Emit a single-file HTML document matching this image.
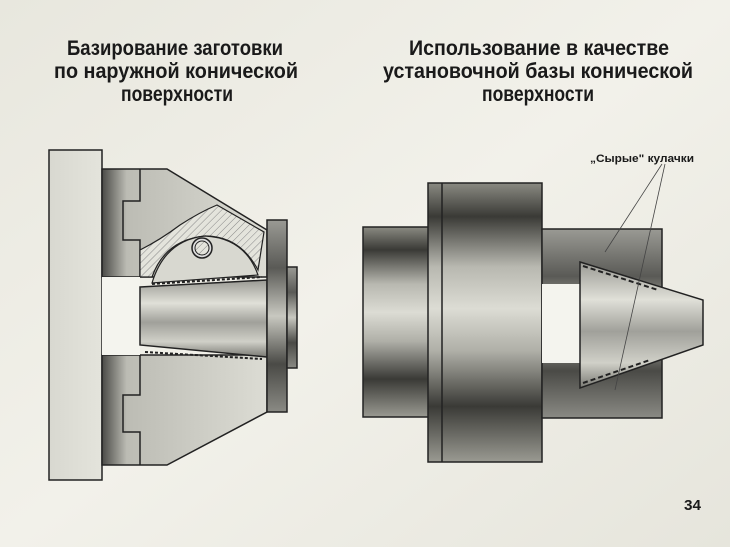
<!DOCTYPE html>
<html><head><meta charset="utf-8"><style>
html,body{margin:0;padding:0;background:#efeee6;}
svg{display:block}
text{font-family:"Liberation Sans","DejaVu Sans",sans-serif;font-weight:bold;fill:#1a1a1a}
</style></head><body>
<svg width="730" height="547" viewBox="0 0 730 547" xmlns="http://www.w3.org/2000/svg">
<defs>
<linearGradient id="bg" x1="0" y1="0" x2="1" y2="1">
<stop offset="0" stop-color="#e8e7de"/><stop offset="0.5" stop-color="#f2f1ea"/><stop offset="1" stop-color="#e6e5dc"/></linearGradient>
<linearGradient id="cyl" x1="0" y1="0" x2="0" y2="1">
<stop offset="0" stop-color="#8a8a82"/><stop offset="0.12" stop-color="#3a3a36"/><stop offset="0.3" stop-color="#b8b8b0"/><stop offset="0.45" stop-color="#dcdcd4"/><stop offset="0.6" stop-color="#b0b0a8"/><stop offset="0.8" stop-color="#3a3a36"/><stop offset="0.9" stop-color="#6a6a64"/><stop offset="1" stop-color="#9a9a92"/></linearGradient>
<linearGradient id="cyl2" x1="0" y1="0" x2="0" y2="1">
<stop offset="0" stop-color="#9a9a94"/><stop offset="0.25" stop-color="#5a5a56"/><stop offset="0.5" stop-color="#c8c8c0"/><stop offset="0.75" stop-color="#4a4a46"/><stop offset="1" stop-color="#8a8a84"/></linearGradient>
<linearGradient id="work" x1="0" y1="0" x2="0" y2="1">
<stop offset="0" stop-color="#9a9a94"/><stop offset="0.3" stop-color="#e0e0d8"/><stop offset="0.55" stop-color="#a0a09a"/><stop offset="0.8" stop-color="#d0d0c8"/><stop offset="1" stop-color="#7a7a74"/></linearGradient>
<linearGradient id="plate" x1="0" y1="0" x2="1" y2="0">
<stop offset="0" stop-color="#d8d8d0"/><stop offset="1" stop-color="#e4e4dc"/></linearGradient>
<linearGradient id="jaw" x1="0" y1="0" x2="1" y2="0">
<stop offset="0" stop-color="#4a4a46"/><stop offset="0.15" stop-color="#bcbcb4"/><stop offset="1" stop-color="#dcdcd4"/></linearGradient>
<pattern id="hatch" width="5" height="5" patternUnits="userSpaceOnUse" patternTransform="rotate(45)">
<rect width="5" height="5" fill="#e4e4dc"/><line x1="0" y1="0" x2="0" y2="5" stroke="#888" stroke-width="1"/></pattern>
</defs>
<rect width="730" height="547" fill="url(#bg)"/>

<g font-size="21" text-anchor="middle">
<text x="175" y="55" textLength="216" lengthAdjust="spacingAndGlyphs">Базирование заготовки</text>
<text x="176" y="78" textLength="244" lengthAdjust="spacingAndGlyphs">по наружной конической</text>
<text x="177" y="101" textLength="112" lengthAdjust="spacingAndGlyphs">поверхности</text>
<text x="539" y="55" textLength="260" lengthAdjust="spacingAndGlyphs">Использование в качестве</text>
<text x="538" y="78" textLength="310" lengthAdjust="spacingAndGlyphs">установочной базы конической</text>
<text x="538" y="101" textLength="112" lengthAdjust="spacingAndGlyphs">поверхности</text>
</g>

<!-- LEFT FIGURE -->
<rect x="49" y="150" width="53" height="330" fill="url(#plate)" stroke="#222" stroke-width="1.5"/>
<path d="M102 169 H167 L267 230 V277 H102 Z" fill="url(#jaw)" stroke="#222" stroke-width="1.5"/>
<path d="M140 169 V201 H123 V240 H140 V277" fill="none" stroke="#222" stroke-width="1.5"/>
<path d="M140 277 V250 Q160 240 180 225 Q200 212 217 205 L264 232 L258 270 Q240 236 205 236 Q165 240 152 277 Z" fill="url(#hatch)" stroke="#222" stroke-width="1.2"/>
<path d="M152 283 Q165 240 205 236 Q245 238 258 275 Z" fill="#d8d8d0" stroke="#222" stroke-width="1.2"/>
<circle cx="202" cy="248" r="10" fill="#ddd" stroke="#222" stroke-width="1.5"/>
<circle cx="202" cy="248" r="7" fill="url(#hatch)" stroke="#222"/>
<path d="M102 355 H267 V412 L167 465 H102 Z" fill="url(#jaw)" stroke="#222" stroke-width="1.5"/>
<path d="M140 355 V395 H123 V432 H140 V465" fill="none" stroke="#222" stroke-width="1.5"/>
<rect x="102" y="277" width="38" height="78" fill="#f4f4ee"/>
<path d="M140 287 L267 280 V357 L140 345 Z" fill="url(#work)" stroke="#222" stroke-width="1.5"/>
<g stroke="#222" stroke-width="2" stroke-dasharray="3 2" fill="none">
<line x1="152" y1="284" x2="262" y2="277"/>
<line x1="145" y1="352" x2="262" y2="359"/>
</g>
<rect x="267" y="220" width="20" height="192" fill="url(#cyl2)" stroke="#222" stroke-width="1.5"/>
<rect x="287" y="267" width="10" height="101" fill="url(#cyl2)" stroke="#222" stroke-width="1.5"/>

<!-- RIGHT FIGURE -->
<rect x="363" y="227" width="67" height="190" fill="url(#cyl)" stroke="#222" stroke-width="1.5"/>
<rect x="428" y="183" width="114" height="279" fill="url(#cyl)" stroke="#222" stroke-width="1.5"/>
<line x1="442" y1="183" x2="442" y2="462" stroke="#222" stroke-width="1.5"/>
<rect x="542" y="229" width="120" height="189" fill="url(#cyl2)" stroke="#222" stroke-width="1.5"/>
<rect x="542" y="284" width="38" height="79" fill="#f4f4ee"/>
<path d="M580 262 L703 300 V345 L580 388 Z" fill="url(#work)" stroke="#222" stroke-width="1.5"/>
<g stroke="#222" stroke-width="2" stroke-dasharray="5 3" fill="none">
<line x1="583" y1="266" x2="658" y2="290"/>
<line x1="583" y1="383" x2="650" y2="360"/>
</g>
<text x="590" y="162" font-size="11" textLength="104" lengthAdjust="spacingAndGlyphs">„Сырые" кулачки</text>
<g stroke="#444" stroke-width="0.8">
<line x1="662" y1="164" x2="605" y2="252"/>
<line x1="665" y1="164" x2="615" y2="390"/>
</g>
<text x="684" y="510" font-size="15" textLength="17" lengthAdjust="spacingAndGlyphs">34</text>
</svg>
</body></html>
